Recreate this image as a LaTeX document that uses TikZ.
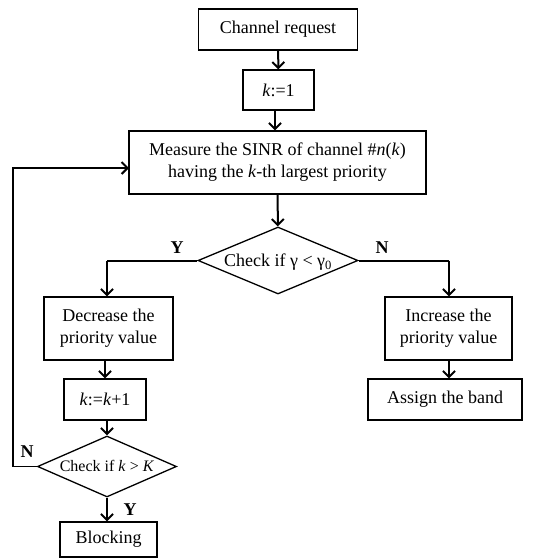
\documentclass[tikz,border=0pt]{standalone}
\usepackage{fontspec}
\setmainfont{Liberation Serif}
\usetikzlibrary{shapes.geometric,arrows.meta}
\tikzset{
  box/.style={draw, line width=1.3pt, inner sep=0pt, align=center, font=\fontsize{18}{22}\selectfont},
  dia/.style={draw, diamond, line width=1.3pt, inner sep=0pt, aspect=2.4},
  arr/.style={line width=2pt, -{Straight Barb[length=6pt,width=12pt,line width=2pt]}},
  ln/.style={line width=2pt},
  lbl/.style={font=\fontsize{18}{22}\selectfont\bfseries}
}
\newcommand{\zw}[1]{\makebox[0pt]{\raisebox{-0.33em}[0pt][0pt]{#1}}}
\begin{document}
\begin{tikzpicture}[x=1pt,y=-1pt]
\useasboundingbox (0,0) rectangle (557,560);
\node[box, minimum width=159pt, minimum height=41pt] (req) at (278,29.5) {Channel request};
\node[box, minimum width=71pt, minimum height=40pt] (k1) at (278.5,90) {\textit{k}:=1};
\node[box, minimum width=297pt, minimum height=63pt] (meas) at (277.5,162.5) {Measure the SINR of channel \#\textit{n}(\textit{k})\\having the \textit{k}-th largest priority};
\node[dia, minimum width=160pt, minimum height=67pt, font=\fontsize{18}{22}\selectfont] (chk) at (278,260.5) {\zw{Check if γ < γ\textsubscript{0}}};
\node[box, minimum width=129pt, minimum height=63pt] (dec) at (108.5,328.5) {Decrease the\\priority value};
\node[box, minimum width=127pt, minimum height=63pt] (inc) at (448.5,328.5) {Increase the\\priority value};
\node[box, minimum width=82pt, minimum height=41pt] (kk) at (105,399.5) {\textit{k}:=\textit{k}+1};
\node[box, minimum width=154pt, minimum height=41pt] (asg) at (445,399.5) {Assign the band};
\node[dia, minimum width=139pt, minimum height=61pt, font=\fontsize{16}{20}\selectfont] (chk2) at (107,466.5) {\zw{Check if \textit{k} > \textit{K}}};
\node[box, minimum width=97pt, minimum height=35pt] (blk) at (108.5,539.5) {Blocking};
\coordinate (lp1) at (13,466.5);
\coordinate (lp2) at (13,168);
\coordinate (lp3) at (129,168);
\coordinate (yl) at (107,260.5);
\coordinate (nr) at (449,260.5);
\draw[arr] (req) -- (k1);
\draw[arr] (k1.south -| 275,0) -- (meas.north -| 275,0);
\draw[arr] (meas) -- (chk);
\draw[ln] (chk.west) -- (yl);
\draw[arr] (yl) -- (dec.north -| yl);
\draw[ln] (chk.east) -- (nr);
\draw[arr] (nr) -- (inc.north -| nr);
\draw[arr] (dec.south -| kk.north) -- (kk.north);
\draw[arr] (kk.south -| chk2.north) -- (chk2.north);
\draw[arr] (chk2.south) -- (blk.north -| chk2.south);
\draw[arr] (inc.south -| nr) -- (asg.north -| nr);
\draw[line width=1.3pt] (chk2.west) -- (lp1);
\draw[arr] (lp1) -- (lp2) -- (lp3);
\node[lbl] (ly1) at (177,248) {Y};
\node[lbl] (ln1) at (382,248) {N};
\node[lbl] (ln2) at (27,452) {N};
\node[lbl] (ly2) at (130,510) {Y};
\end{tikzpicture}
\end{document}
